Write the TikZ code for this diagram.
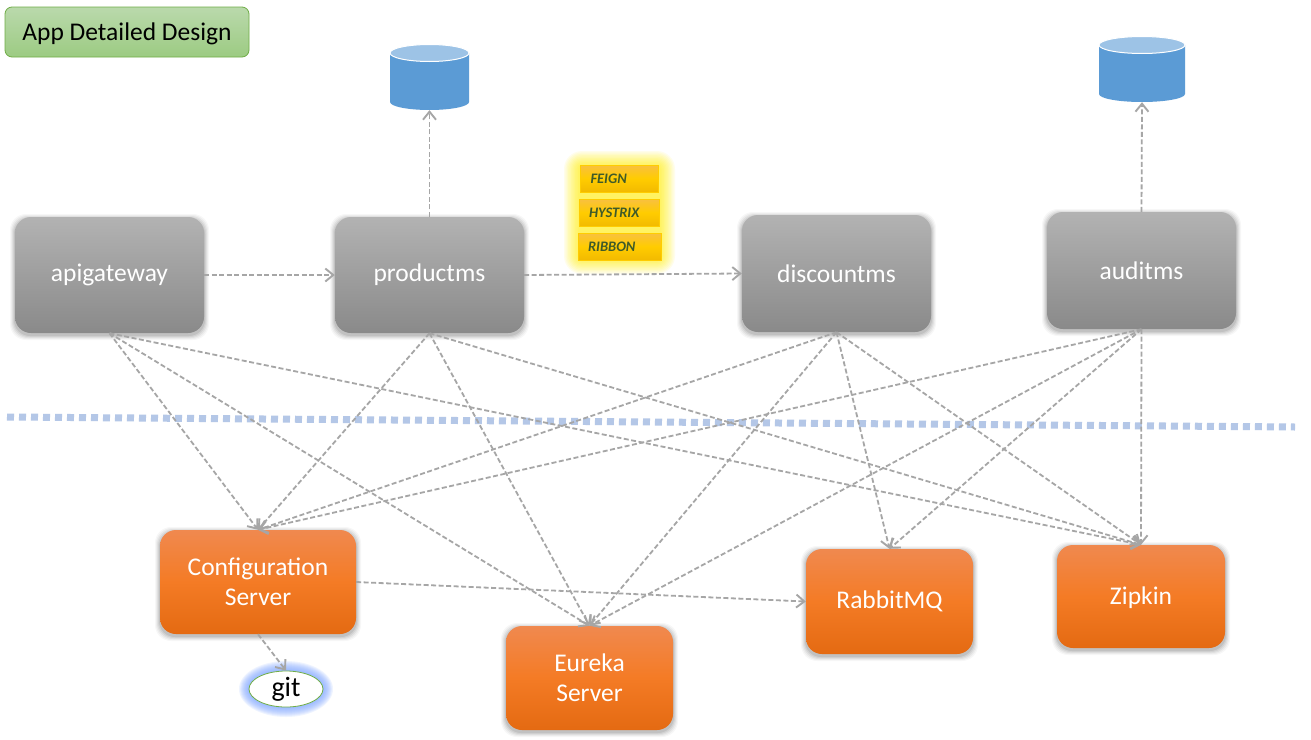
\documentclass[tikz,border=0pt]{standalone}
\usepackage{fontspec}
\setmainfont{Carlito}
\usetikzlibrary{arrows.meta,calc,shapes.geometric}
\definecolor{lnk}{HTML}{A6A6A6}
\definecolor{dotblue}{HTML}{B4C7E7}
\definecolor{dbdark}{HTML}{5B9BD5}
\definecolor{dblight}{HTML}{9DC3E6}
\definecolor{ylwtxt}{HTML}{3F5A2A}
\definecolor{orange1}{HTML}{F0894F}
\definecolor{orange2}{HTML}{F47B25}
\definecolor{orange3}{HTML}{E46A12}
\definecolor{ytop}{HTML}{F8C040}
\definecolor{ymid}{HTML}{FFCC00}
\definecolor{ybot}{HTML}{F2BA00}
\definecolor{gtop}{HTML}{BAD9AC}
\definecolor{gbot}{HTML}{9CCB82}
\definecolor{gline}{HTML}{70AD47}
\definecolor{gitglow}{HTML}{7FA8FF}
\tikzset{
  link/.style={draw=lnk,line width=1.8pt,dash pattern=on 5pt off 2.5pt,-{Straight Barb[length=8pt,width=13pt,line width=1.9pt]}},
  greybox/.style={rounded corners=16pt,top color=black!30,bottom color=black!46,text=white,font=\fontsize{25.5}{30}\selectfont,align=center,inner sep=0pt},
  orangebox/.style={rounded corners=16pt,top color=orange1,bottom color=orange3,middle color=orange2,text=white,font=\fontsize{25.5}{30}\selectfont,align=center,inner sep=0pt},
  ybox/.style={top color=ytop,bottom color=ybot,middle color=ymid,draw=ymid,line width=.8pt,text=ylwtxt,font=\fontsize{14.5}{16}\selectfont\bfseries\itshape,align=left,inner sep=0pt},
  titlebox/.style={rounded corners=7pt,top color=gtop,bottom color=gbot,draw=gline,line width=.8pt,text=black,font=\fontsize{25.5}{30}\selectfont,inner sep=0pt},
  dbbox/.style={inner sep=0pt}
}
% name, x1, y1, x2, y2, style, text
\newcommand{\softbox}[7]{%
  \foreach \w/\o in {5/.03,4/.04,3/.05,2/.06,1/.08}{
    \fill[black,opacity=\o,rounded corners=16pt] ($(#2-\w,#3+2-\w)$) rectangle ($(#4+\w,#5+2+\w)$);
  }
  \node[#6,minimum width=#4pt-#2pt,minimum height=#5pt-#3pt] (#1) at ({(#2+#4)/2},{(#3+#5)/2}) {#7};
}
% name, cx, ytop, width, height
\newcommand{\dbcyl}[5]{%
  \node[dbbox,minimum width=#4pt,minimum height=#5pt] (#1) at (#2,#3+#5/2) {};
  \fill[dbdark] (#2-#4/2,#3+8) -- (#2-#4/2,#3+#5-8) arc[start angle=180,end angle=360,x radius=#4/2,y radius=-8] -- (#2+#4/2,#3+8) -- cycle;
  \fill[dblight,draw=white,line width=1pt] (#2,#3+8) ellipse[x radius=#4/2,y radius=8.5];
}
\begin{document}
\begin{tikzpicture}[x=1pt,y=-1pt]
\useasboundingbox (0,0) rectangle (1311,739);
\fill[white] (0,0) rectangle (1311,739);

% title
\node[titlebox,minimum width=244pt,minimum height=50pt] (title) at (127,32) {\raisebox{-8pt}[0pt][0pt]{App Detailed Design}};

% divider
\coordinate (divL) at (7,417);
\coordinate (divR) at (1295,427);
\draw[dotblue,line width=7pt,dash pattern=on 7pt off 5pt] (divL) -- (divR);

% databases
\dbcyl{dbA}{429.5}{45}{79}{65}
\dbcyl{dbB}{1142}{37}{86}{65}

% glow behind yellow boxes
\foreach \w in {14,12.6,11.2,9.8,8.4,7,5.6,4.2,2.8,1.4,0}{
  \fill[yellow,opacity=.08,rounded corners=4pt+\w pt] (578-\w,165-\w) rectangle (661+\w,260+\w);
}

% grey services
\softbox{api}{15}{217}{204}{333}{greybox}{apigateway}
\softbox{product}{335}{217}{524}{333}{greybox}{productms}
\softbox{discount}{742}{215}{931}{332}{greybox}{discountms}
\softbox{audit}{1047}{212}{1236}{329}{greybox}{auditms}

% orange services
\softbox{cfg}{160}{530}{356}{634}{orangebox}{Configuration\\Server}
\softbox{eureka}{506}{626}{673}{730}{orangebox}{Eureka\\Server}
\softbox{rabbit}{806}{549}{973}{654}{orangebox}{RabbitMQ}
\softbox{zipkin}{1057}{545}{1225}{648}{orangebox}{\raisebox{-8pt}[0pt][0pt]{Zipkin}}

% yellow tags
\node[ybox,minimum width=78pt,minimum height=27pt,text width=68pt] (feign) at (619.5,178.5) {\hspace*{5pt}FEIGN};
\node[ybox,minimum width=80pt,minimum height=27pt,text width=70pt] (hystrix) at (619,212.5) {\hspace*{5pt}HYSTRIX};
\node[ybox,minimum width=83pt,minimum height=27pt,text width=73pt] (ribbon) at (619.5,246.5) {\hspace*{5pt}RIBBON};

% git
\foreach \w in {10,9,8,7,6,5,4,3,2,1}{
  \fill[gitglow,opacity=.12] (286,689) ellipse[x radius=37+\w,y radius=18+\w];
}
\node[ellipse,draw=gline,fill=white,line width=.8pt,minimum width=74pt,minimum height=36pt,inner sep=0pt,font=\fontsize{28}{32}\selectfont] (git) at (286,689) {git};

% connectors
\draw[link] (api.east) -- (product.west);
\draw[link] (product.east) -- (discount.west);
\draw[link] (product.north) -- (dbA.south);
\draw[link] (audit.north) -- (dbB.south);
\draw[link] (cfg.east) -- (rabbit.west);
\draw[link] (cfg.south) -- (git.north);
\foreach \s in {api,product,discount,audit}{
  \draw[link] (\s.south) -- (cfg.north);
  \draw[link] (\s.south) -- (eureka.north);
  \draw[link] (\s.south) -- (zipkin.north);
}
\foreach \s in {discount,audit}{
  \draw[link] (\s.south) -- (rabbit.north);
}
\end{tikzpicture}
\end{document}
